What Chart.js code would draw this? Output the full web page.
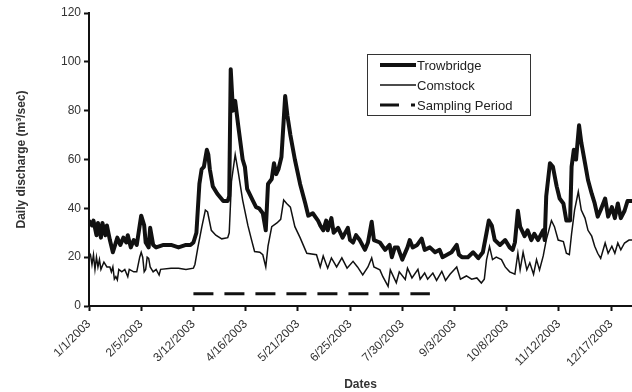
<!DOCTYPE html>
<html>
<head>
<meta charset="utf-8">
<script src="https://cdn.jsdelivr.net/npm/chart.js@4"></script>
<style>
  body { margin: 0; background: #fff; }
  canvas { display: block; }
</style>
</head>
<body>
<canvas id="flowChart" width="632" height="392"></canvas>
<script>
// day of year (0 = 1/1/2003) and daily discharge
const trowDays = [0, 2, 3, 5, 6, 8, 9, 11, 12, 14, 16, 17, 19, 21, 23, 25, 26, 28, 30, 32, 34, 35, 37, 38, 40, 41, 43, 45, 50, 55, 60, 65, 68,
    70, 72, 74, 75.5, 77, 79, 80, 81, 83, 86, 90, 93, 94, 95, 96.5, 98, 100, 103, 104.5, 106, 110, 112, 114, 116.5, 118.5,
    120, 122.5, 124, 125.5, 127, 129, 131.5, 133, 135, 138, 141.5, 145, 147, 150, 153.5, 155, 157, 159, 160, 162.5, 164,
    167, 170, 173.5, 175, 177, 179, 181.5, 185, 187, 189.5, 191, 195, 198.5, 201.5, 203, 205, 207, 210, 213.5, 215, 217,
    220, 223, 225, 228.5, 232, 235, 237, 240, 243, 246.5, 248, 250, 254, 257.5, 261, 264, 266.5, 268, 270, 272, 275.5,
    279, 282, 284, 285.5, 287.5, 289, 292, 294, 296.5, 298.5, 301, 304.5, 305.5, 306.5, 309, 311, 313.5, 315.5, 318,
    320, 322.5, 323.5, 325, 326.5, 328.5, 330, 332.5, 334.5, 337, 339, 341, 343, 346, 348, 350.5, 352.5, 354.5, 356.5,
    359, 361, 364];
const trowQ = [35, 33, 35, 29, 34, 28, 34, 29, 33, 27, 22, 24, 28, 25, 28, 26, 29, 24, 27, 25, 33, 37, 33, 26, 24, 32, 25, 24, 25, 25, 24, 25, 25,
    26, 30, 50, 56, 57, 64, 62, 56, 49, 46, 43, 43, 45, 97, 80, 84, 74, 60, 57, 48, 43, 40.5, 40, 38, 31,
    50, 52, 58.5, 54, 56, 61, 86, 78, 70, 60, 50, 42, 37, 38, 35, 33, 31, 35, 31, 36, 30,
    32, 28, 32, 27, 26, 29, 27, 23, 26, 34.5, 27, 26, 23, 25, 20, 24, 24, 19, 24, 27, 24,
    25, 27.6, 23, 24, 22, 23, 20, 21, 22, 25, 21, 20, 20, 22, 19.6, 22, 30, 35, 33, 27, 25,
    27, 24, 23, 26, 39, 32.5, 28.6, 31, 27, 29.6, 27, 31, 27, 45, 58.5, 57, 49, 44, 42,
    35, 35, 57, 64, 60, 74, 67, 58.5, 51.6, 46, 42, 36.6, 39.3, 44, 36.6, 40.5, 36, 42, 36,
    39, 43, 43];

const comDays = [0, 1, 2, 3, 4, 5, 6, 7, 8, 10, 12, 14, 15, 16, 17, 18, 19, 20, 22, 24, 26, 27, 30, 32, 34, 35, 36, 37, 38, 39, 40, 41, 43,
    45, 47, 48, 55, 60, 65, 70, 71, 73, 75.5, 78, 79.5, 82, 85, 89, 93, 94, 95.5, 98, 100, 103, 106.5, 109, 111, 114.5,
    116.5, 118.5, 120, 122.5, 126, 128.5, 130.5, 132.5, 135, 138, 141.5, 145, 146, 152.5, 155, 157, 160, 162.5, 166,
    169.5, 173, 177, 180, 183.5, 187, 189.5, 191, 195, 197, 200.5, 202, 206, 208, 212, 213.5, 216.5, 220.5, 222, 225,
    227, 230.5, 233, 236.5, 239, 242, 246.5, 249, 253, 256.5, 260, 263, 265, 266.5, 268.5, 270.5, 273, 276.5, 279, 282,
    285.5, 287.5, 289, 291, 293.5, 295.5, 298, 300, 302, 304.5, 306.5, 310, 312, 314.5, 318, 320, 322, 323.5, 325.5,
    328, 330, 332.5, 334.5, 337, 339, 341, 343, 346, 348, 350.5, 352.5, 354.5, 356.5, 359, 362, 364];
const comQ = [22, 21, 17, 21, 15, 20, 16, 19, 15, 18, 16, 16, 14, 16, 11, 12, 10.7, 15, 14, 15, 12, 15, 14, 14, 20, 22, 20, 14, 15, 20, 19.5, 16, 14,
    15, 12.7, 15, 15.5, 15.5, 15, 15.5, 17, 24, 32, 39.3, 38.5, 31, 29, 27.5, 28, 30, 51, 62, 55, 43.4, 33, 27, 22.3, 22,
    21, 16, 24.5, 32.5, 34, 35.5, 43.4, 42, 40.5, 32.5, 28, 23, 21.6, 21, 16, 20.5, 15.5, 19.7, 16,
    19.7, 15.5, 18.3, 16, 12.7, 16, 19.7, 16, 14.8, 12, 8, 14.8, 9.5, 14, 10.9, 15.5, 11.5, 15, 11, 13.5,
    11, 13.5, 10.5, 14.2, 10.5, 13, 16, 11, 12.3, 11, 11.5, 9.4, 11, 19, 24.3, 19, 20, 19, 16, 14,
    13, 21.6, 14.8, 22, 14.8, 17.7, 13, 19, 14.8, 20.5, 27, 35, 32.5, 27, 26.4, 21.6, 21, 29.6, 39.3,
    46.8, 39.3, 36, 31, 28.6, 24.5, 21.6, 19.5, 25.8, 21.6, 24.5, 21.6, 25.8, 23, 25.8, 27, 27];

// sampling period shown as a dashed bar at 5 m3/sec
const samplingDays = [70, 228.5];
const samplingQ = [5, 5];

const tickDays = [0, 35, 70, 105, 140, 175, 210, 245, 280, 315, 350];
const tickLabels = ['1/1/2003', '2/5/2003', '3/12/2003', '4/16/2003', '5/21/2003', '6/25/2003',
    '7/30/2003', '9/3/2003', '10/8/2003', '11/12/2003', '12/17/2003'];

const seriesNames = ['Trowbridge', 'Comstock', 'Sampling Period'];

const toPoints = (xs, ys) => xs.map((x, i) => ({ x: x, y: ys[i] }));

// legend box drawn inside the plot like the original figure
const boxLegend = {
    id: 'boxLegend',
    afterDraw(chart) {
        const ctx = chart.ctx;
        ctx.save();
        ctx.strokeStyle = '#333';
        ctx.lineWidth = 1;
        ctx.strokeRect(367.5, 54.5, 163, 61);
        ctx.font = '13px "Liberation Sans", Arial, sans-serif';
        ctx.fillStyle = '#222';
        ctx.textBaseline = 'middle';
        const rows = [65, 85, 105];
        rows.forEach((y, i) => {
            ctx.strokeStyle = '#111';
            ctx.beginPath();
            if (i === 2) {
                ctx.lineWidth = 3;
                ctx.moveTo(380, y); ctx.lineTo(399, y);
                ctx.moveTo(411, y); ctx.lineTo(415, y);
            } else {
                ctx.lineWidth = i === 0 ? 4 : 1.5;
                ctx.moveTo(380, y); ctx.lineTo(416, y);
            }
            ctx.stroke();
            ctx.fillText(seriesNames[i], 417, y + 1);
        });
        ctx.restore();
    }
};

const ctx = document.getElementById('flowChart').getContext('2d');
new Chart(ctx, {
    type: 'line',
    data: {
        datasets: [
            {
                label: seriesNames[0],
                data: toPoints(trowDays, trowQ),
                borderColor: '#111',
                borderWidth: 4,
                borderJoinStyle: 'round',
                pointRadius: 0,
                tension: 0
            },
            {
                label: seriesNames[1],
                data: toPoints(comDays, comQ),
                borderColor: '#111',
                borderWidth: 1.5,
                pointRadius: 0,
                tension: 0
            },
            {
                label: seriesNames[2],
                data: toPoints(samplingDays, samplingQ),
                borderColor: '#111',
                borderWidth: 3,
                borderDash: [20, 11],
                pointRadius: 0
            }
        ]
    },
    options: {
        responsive: false,
        animation: false,
        layout: { padding: { top: 13, right: 0, left: 0, bottom: 0 } },
        plugins: {
            legend: { display: false },
            tooltip: { enabled: false }
        },
        scales: {
            x: {
                type: 'linear',
                min: 0,
                max: 364,
                afterFit: (scale) => { scale.height = 86; },
                afterBuildTicks: (scale) => { scale.ticks = tickDays.map(v => ({ value: v })); },
                border: { display: true, color: '#111', width: 2 },
                grid: { drawOnChartArea: false, drawTicks: true, tickLength: 5, tickColor: '#111', tickWidth: 2 },
                ticks: {
                    autoSkip: false,
                    maxRotation: 45,
                    minRotation: 45,
                    padding: 6,
                    color: '#333',
                    font: { family: '"Liberation Sans", Arial, sans-serif', size: 12 },
                    callback: (value) => tickLabels[tickDays.indexOf(value)]
                },
                title: {
                    display: true,
                    text: 'Dates',
                    color: '#333',
                    padding: { top: 0, bottom: 0 },
                    font: { family: '"Liberation Sans", Arial, sans-serif', size: 12, weight: 'bold' }
                }
            },
            y: {
                min: 0,
                max: 120,
                afterFit: (scale) => { scale.width = 89; },
                border: { display: true, color: '#111', width: 2 },
                grid: { drawOnChartArea: false, drawTicks: true, tickLength: 5, tickColor: '#111', tickWidth: 2 },
                ticks: {
                    stepSize: 20,
                    padding: 3,
                    color: '#333',
                    font: { family: '"Liberation Sans", Arial, sans-serif', size: 12 }
                },
                title: {
                    display: true,
                    text: 'Daily discharge (m³/sec)',
                    color: '#333',
                    padding: { top: 14, bottom: 0 },
                    font: { family: '"Liberation Sans", Arial, sans-serif', size: 12, weight: 'bold' }
                }
            }
        }
    },
    plugins: [boxLegend]
});
</script>
</body>
</html>
